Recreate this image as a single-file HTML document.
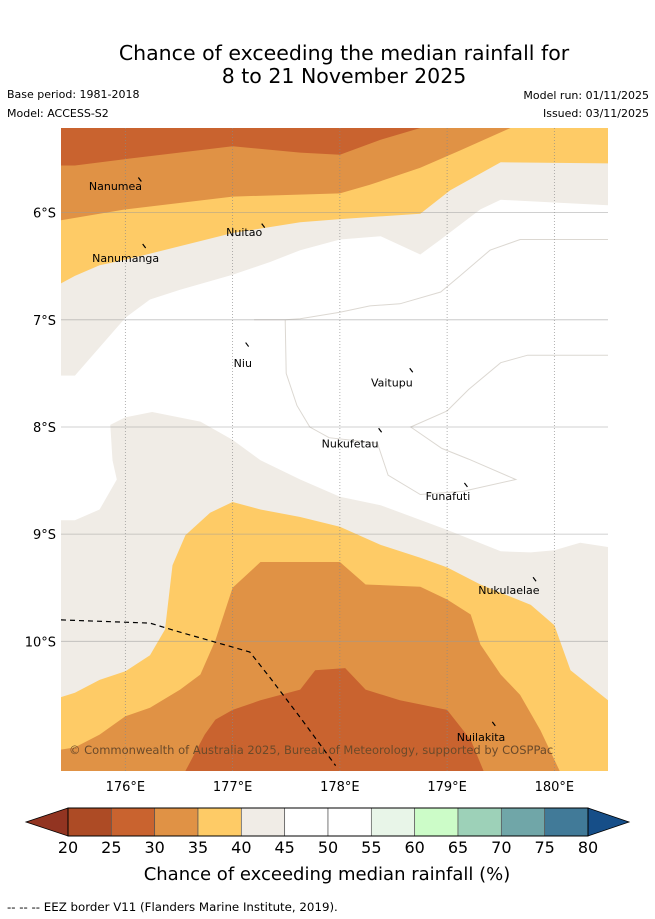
<!DOCTYPE html>
<html><head><meta charset="utf-8">
<style>
html,body{margin:0;padding:0;background:#fff;width:655px;height:919px;overflow:hidden;font-family:"DejaVu Sans","Liberation Sans",sans-serif;}
svg{display:block}
</style></head>
<body>
<svg id="chart" width="655" height="919" xmlns="http://www.w3.org/2000/svg">
<text x="344" y="60" font-size="20.5" text-anchor="middle" fill="#000">Chance of exceeding the median rainfall for</text>
<text x="344" y="83" font-size="20.5" text-anchor="middle" fill="#000">8 to 21 November 2025</text>
<text x="7" y="98" font-size="11">Base period: 1981-2018</text>
<text x="7" y="117" font-size="11">Model: ACCESS-S2</text>
<text x="649" y="99" font-size="11" text-anchor="end">Model run: 01/11/2025</text>
<text x="649" y="117" font-size="11" text-anchor="end">Issued: 03/11/2025</text>
<g id="map"></g>
<g id="cbar"></g>
<text x="7" y="911" font-size="11.8">--  --  -- EEZ border V11 (Flanders Marine Institute, 2019).</text>
</svg>
<script>
// Data: contour boundaries as [lon, lat(°S)] pairs
const lonTicks = [176, 177, 178, 179, 180];
const latTicks = [6, 7, 8, 9, 10];
const cbLevels = [20,25,30,35,40,45,50,55,60,65,70,75,80];
const cbColors = ["#ad4b25","#c9632f","#e09245","#fecb66","#f0ece6","#ffffff","#ffffff","#e8f5e8","#ccfcc8","#9dd1b8","#70a6a8","#417a98"];
const topDark = [[175.40,5.56],[175.53,5.56],[176.00,5.50],[177.00,5.38],[177.63,5.44],[178.00,5.46],[178.38,5.32],[178.75,5.21]];
const topOrange = [[175.40,6.07],[176.00,5.97],[177.00,5.85],[178.00,5.82],[178.28,5.74],[178.75,5.58],[179.12,5.42],[179.59,5.21]];
const topYellow = [[175.40,6.66],[175.53,6.59],[175.76,6.49],[176.00,6.44],[177.00,6.19],[177.63,6.09],[178.00,6.06],[178.75,6.01],[179.03,5.79],[179.50,5.53],[180.50,5.54]];
const whiteTop = [[175.53,7.52],[176.00,6.98],[176.23,6.81],[176.51,6.72],[177.00,6.58],[177.35,6.46],[177.63,6.35],[178.00,6.25],[178.38,6.22],[178.75,6.39],[178.94,6.25],[179.31,5.97],[179.50,5.88],[180.50,5.93]];
const whiteBottom = [[180.50,9.12],[180.24,9.08],[180.00,9.15],[179.78,9.17],[179.50,9.16],[179.00,8.96],[178.38,8.73],[178.00,8.65],[177.63,8.49],[177.26,8.31],[177.00,8.12],[176.70,7.95],[176.25,7.86],[176.00,7.91],[175.86,7.98],[175.88,8.31],[175.92,8.49],[175.76,8.77],[175.53,8.87],[175.40,8.87],[175.40,7.52]];
const botYellow = [[175.40,10.52],[175.53,10.48],[175.76,10.36],[176.00,10.28],[176.23,10.13],[176.37,9.89],[176.44,9.29],[176.56,9.01],[176.79,8.80],[177.00,8.70],[177.26,8.77],[177.63,8.84],[178.00,8.93],[178.38,9.10],[178.75,9.22],[179.00,9.31],[179.31,9.47],[179.78,9.66],[180.00,9.85],[180.15,10.27],[180.50,10.55]];
const botOrange = [[175.40,11.01],[175.53,10.99],[175.76,10.87],[176.00,10.70],[176.23,10.62],[176.51,10.45],[176.70,10.31],[176.84,9.99],[177.00,9.50],[177.26,9.26],[178.00,9.26],[178.24,9.47],[178.75,9.49],[179.00,9.61],[179.22,9.75],[179.31,10.03],[179.50,10.31],[179.68,10.50],[179.87,10.83],[180.05,11.21],[180.39,11.21]];
const botDark = [[176.56,11.21],[176.74,10.87],[176.84,10.73],[177.00,10.64],[177.26,10.55],[177.63,10.45],[177.77,10.27],[178.05,10.25],[178.24,10.45],[178.56,10.55],[179.00,10.64],[179.22,10.92],[179.34,11.21]];
const eezLine = [[175.40,9.80],[176.23,9.83],[176.46,9.90],[177.16,10.10],[177.35,10.34],[177.63,10.71],[177.96,11.16]];
const faintLines = [
 [[177.20,7.00],[177.49,7.00],[177.63,6.99],[178.00,6.93],[178.28,6.87],[178.56,6.85],[178.94,6.74],[179.12,6.59],[179.40,6.35],[179.68,6.25],[180.50,6.25]],
 [[177.49,7.00],[177.50,7.50],[177.60,7.80],[177.72,8.00],[177.90,8.10],[178.35,8.15],[178.45,8.45],[178.75,8.63],[179.15,8.60],[179.64,8.49],[179.20,8.30],[178.95,8.20],[178.66,8.00],[179.00,7.85],[179.20,7.65],[179.50,7.40],[179.75,7.33],[180.50,7.33]]
];
const islandNames = ["Nanumea","Nuitao","Nanumanga","Niu","Vaitupu","Nukufetau","Funafuti","Nukulaelae","Nuilakita"];
const islandLon = [175.66,176.94,175.69,177.01,178.29,177.83,178.80,179.29,179.09];
const islandLat = [5.79,6.22,6.46,7.44,7.62,8.19,8.68,9.56,10.93];
const islandMarkLon = [176.14,177.29,176.18,177.14,178.67,178.38,179.18,179.82,179.44];
const islandMarkLat = [5.70,6.13,6.32,7.24,7.48,8.04,8.55,9.43,10.78];

const NS="http://www.w3.org/2000/svg";
const X0=61,X1=608,Y0=128,Y1=771;
const LON0=175.40,LON1=180.50,LAT0=5.21,LAT1=11.21;
const xs=l=>X0+(l-LON0)/(LON1-LON0)*(X1-X0);
const ys=l=>Y0+(l-LAT0)/(LAT1-LAT0)*(Y1-Y0);
function mk(tag,attrs,parent){const e=document.createElementNS(NS,tag);for(const k in attrs)e.setAttribute(k,attrs[k]);parent.appendChild(e);return e;}
const pts=a=>a.map(p=>xs(p[0]).toFixed(1)+","+ys(p[1]).toFixed(1)).join(" ");
const map=document.getElementById("map");
const defs=mk("defs",{},map);
const cp=mk("clipPath",{id:"clip"},defs);
mk("rect",{x:X0,y:Y0,width:X1-X0,height:Y1-Y0},cp);
const g=mk("g",{"clip-path":"url(#clip)"},map);

let e=mk("rect",{x:X0,y:Y0,width:X1-X0,height:Y1-Y0,fill:"#f0ece6"},g);


e=mk("polygon",{points:pts(whiteTop.concat(whiteBottom)),fill:"#ffffff"},g);


function topBand(arr,fill,name){
  const a=[[LON0,LAT0]].concat(arr);
  const last=arr[arr.length-1];
  if(last[1]>LAT0)a.push([LON1,LAT0]);
  const el=mk("polygon",{points:pts(a),fill:fill},g);
  
  
}
function botBand(arr,fill,name){
  const a=arr.slice();
  const last=arr[arr.length-1];
  if(last[1]<LAT1)a.push([LON1,LAT1]);
  a.push([LON0,LAT1]);
  const el=mk("polygon",{points:pts(a),fill:fill},g);
  
  
}
topBand(topYellow,"#fecb66","top-band-35-40");
topBand(topOrange,"#e09245","top-band-30-35");
topBand(topDark,"#c9632f","top-band-25-30");
botBand(botYellow,"#fecb66","bottom-band-35-40");
botBand(botOrange,"#e09245","bottom-band-30-35");
botBand(botDark,"#c9632f","bottom-band-25-30");
faintLines.forEach((l,i)=>{
  const el=mk("polyline",{points:pts(l),fill:"none",stroke:"#dcd8d2","stroke-width":1},g);
  
  
});
lonTicks.forEach(v=>{
  const el=mk("line",{x1:xs(v),x2:xs(v),y1:Y0,y2:Y1,stroke:"#888","stroke-width":0.8,"stroke-dasharray":"1,2",opacity:0.8},g);
  
  
  const t=mk("text",{x:xs(v),y:Y1+20,"font-size":13,"text-anchor":"middle",fill:"#000"},map);
  t.textContent=v+"°E";
  
  
});
latTicks.forEach(v=>{
  const el=mk("line",{x1:X0,x2:X1,y1:ys(v),y2:ys(v),stroke:"#999","stroke-width":0.8,opacity:0.6},g);
  
  
  const t=mk("text",{x:X0-5,y:ys(v)+5,"font-size":13,"text-anchor":"end",fill:"#000"},map);
  t.textContent=v+"°S";
  
  
});
e=mk("polyline",{points:pts(eezLine),fill:"none",stroke:"#000","stroke-width":1.2,"stroke-dasharray":"5,4"},g);


islandNames.forEach((n,i)=>{
  const m=mk("line",{x1:xs(islandMarkLon[i])-2,y1:ys(islandMarkLat[i])-3,x2:xs(islandMarkLon[i])+1,y2:ys(islandMarkLat[i])+1,stroke:"#000","stroke-width":1.2},g);
  
  
  const t=mk("text",{x:xs(islandLon[i]),y:ys(islandLat[i]),"font-size":11,fill:"#000"},g);
  t.textContent=n;
  
  
});
e=mk("text",{x:69,y:754,"font-size":11.5,fill:"#6b4a2a"},g);
e.textContent="© Commonwealth of Australia 2025, Bureau of Meteorology, supported by COSPPac";



const cb=document.getElementById("cbar");
const CX0=68,CX1=588,CY0=808,CY1=836;
const cx=v=>CX0+(v-cbLevels[0])/(cbLevels[cbLevels.length-1]-cbLevels[0])*(CX1-CX0);
e=mk("polygon",{points:`${CX0},${CY0} 26,${(CY0+CY1)/2} ${CX0},${CY1}`,fill:"#923421",stroke:"#000","stroke-width":0.8},cb);


e=mk("polygon",{points:`${CX1},${CY0} 629,${(CY0+CY1)/2} ${CX1},${CY1}`,fill:"#164e88",stroke:"#000","stroke-width":0.8},cb);


cbColors.forEach((c,i)=>{
  const el=mk("rect",{x:cx(cbLevels[i]),y:CY0,width:cx(cbLevels[i+1])-cx(cbLevels[i]),height:CY1-CY0,fill:c,stroke:"#555","stroke-width":0.7},cb);
  
  
});
cbLevels.forEach(v=>{
  const t=mk("text",{x:cx(v),y:853,"font-size":16,"text-anchor":"middle",fill:"#000"},cb);
  t.textContent=v;
  
  
});
e=mk("rect",{x:CX0,y:CY0,width:CX1-CX0,height:CY1-CY0,fill:"none",stroke:"#000","stroke-width":1},cb);


e=mk("text",{x:327,y:880,"font-size":18,"text-anchor":"middle",fill:"#000"},cb);
e.textContent="Chance of exceeding median rainfall (%)";


</script>
</body></html>
